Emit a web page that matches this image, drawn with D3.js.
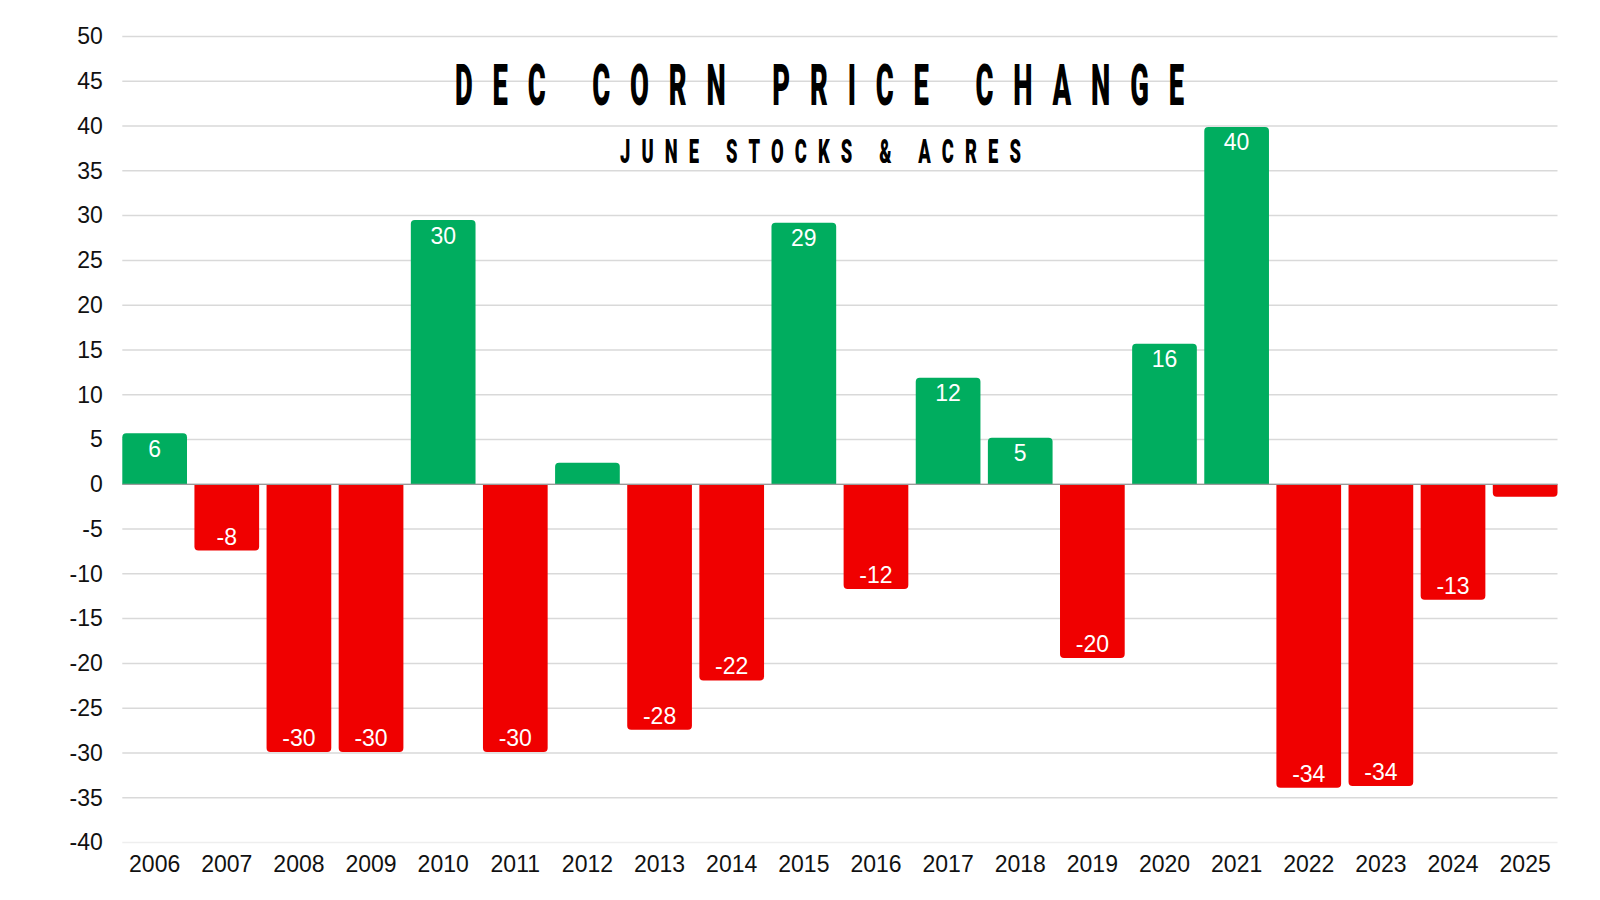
<!DOCTYPE html>
<html><head><meta charset="utf-8">
<script src="https://cdn.jsdelivr.net/npm/d3@7/dist/d3.min.js"></script>
<style>body{margin:0;background:#fff}svg{display:block}</style>
</head><body><svg id="c" width="1600" height="900"></svg>
<script>
const years = ["2006","2007","2008","2009","2010","2011","2012","2013","2014","2015","2016","2017","2018","2019","2020","2021","2022","2023","2024","2025"];
const values = [5.7,-7.4,-29.9,-29.9,29.5,-29.9,2.4,-27.4,-21.9,29.2,-11.7,11.9,5.2,-19.4,15.7,39.9,-33.9,-33.7,-12.9,-1.4];
const labels = ["6","-8","-30","-30","30","-30","","-28","-22","29","-12","12","5","-20","16","40","-34","-34","-13",""];
const yTicks = [50,45,40,35,30,25,20,15,10,5,0,-5,-10,-15,-20,-25,-30,-35,-40];
const title = "DEC CORN PRICE CHANGE";
const subtitle = "JUNE STOCKS & ACRES";

const svg = d3.select("#c");
const L=122.3,R=1557.5,T=36.5,B=842.5;
const x = d3.scaleBand().domain(years).range([L,R]).paddingInner(0.103).paddingOuter(0);
const y = d3.scaleLinear().domain([-40,50]).range([B,T]);
const FONT = "Liberation Sans, Arial, sans-serif";

// grid
svg.append("g").selectAll("line").data(yTicks).join("line")
  .attr("x1",L).attr("x2",R).attr("y1",d=>y(d)).attr("y2",d=>y(d))
  .attr("stroke",d=>d===-40?"#eeeeee":"#d9d9d9").attr("stroke-width",1.5);

// y axis labels
const yAx = svg.append("g").attr("transform",`translate(${L-19.5},0)`)
  .call(d3.axisLeft(y).tickValues(yTicks).tickSize(0).tickPadding(0).tickFormat(d=>String(d)));
yAx.select(".domain").remove();
yAx.selectAll("text").attr("font-family",FONT).attr("font-size",23).attr("fill","#111");

// x axis labels
const xAx = svg.append("g").attr("transform",`translate(0,${B})`)
  .call(d3.axisBottom(x).tickSize(0).tickPadding(0));
xAx.select(".domain").remove();
xAx.selectAll("text").attr("font-family",FONT).attr("font-size",23).attr("fill","#111")
  .attr("dy",null).attr("y",29.5);

// bars with rounded end
const r=4;
function barPath(i){
  const v=values[i], x0=x(years[i]), w=x.bandwidth(), y0=y(0), y1=y(v);
  const s = v>=0?1:-1;
  return `M${x0},${y0}V${y1+s*r}Q${x0},${y1} ${x0+r},${y1}H${x0+w-r}Q${x0+w},${y1} ${x0+w},${y1+s*r}V${y0}Z`;
}
svg.append("g").selectAll("path").data(values).join("path")
  .attr("d",(d,i)=>barPath(i))
  .attr("fill",d=>d>=0?"#00ad5f":"#f00000");

// zero line
svg.append("line").attr("x1",L).attr("x2",R).attr("y1",y(0)).attr("y2",y(0)).attr("stroke","#9a9a9a").attr("stroke-width",1.3);

// value labels
svg.append("g").selectAll("text").data(values).join("text")
  .attr("x",(d,i)=>x(years[i])+x.bandwidth()/2)
  .attr("y",d=>d>=0?y(d)+23.5:y(d)-6)
  .attr("text-anchor","middle")
  .attr("font-family",FONT).attr("font-size",23).attr("fill","#fff")
  .text((d,i)=>labels[i]);

// titles (condensed display style)
const tSx=0.48;
svg.append("text").attr("transform",`translate(455,105) scale(${tSx},1)`)
  .attr("x",0).attr("y",0).attr("textLength",729/tSx).attr("lengthAdjust","spacing")
  .attr("font-family","Roboto, DejaVu Sans, sans-serif").attr("font-weight",900)
  .attr("font-size",57).attr("fill","#000").text(title);
const sSx=0.54;
svg.append("text").attr("transform",`translate(620,163) scale(${sSx},1)`)
  .attr("x",0).attr("y",0).attr("textLength",401/sSx).attr("lengthAdjust","spacing")
  .attr("font-family","Roboto, DejaVu Sans, sans-serif").attr("font-weight",900)
  .attr("font-size",34).attr("fill","#000").text(subtitle);
</script></body></html>
